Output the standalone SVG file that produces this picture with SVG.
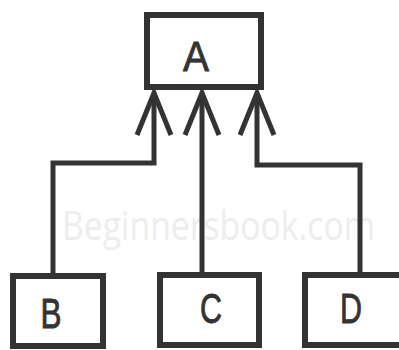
<svg xmlns="http://www.w3.org/2000/svg" width="399" height="350" viewBox="0 0 399 350">
  <style>
    .box { fill: #ffffff; stroke: #333333; stroke-width: 6; }
    .lbl { font-family: "Liberation Sans", Arial, sans-serif; font-size: 42px; fill: #333333; stroke: #333333; stroke-width: 0.9; text-anchor: middle; }
    .link { fill: none; stroke: #333333; stroke-width: 5; stroke-linejoin: miter; }
    .mark { font-family: "Open Sans", "Liberation Sans", sans-serif; font-size: 40px; fill: #ededed; }
  </style>
  <defs>
    <!-- open V arrowhead, tip at the path end -->
    <marker id="openArrow" markerUnits="userSpaceOnUse" viewBox="-46 -22 50 44" refX="0" refY="0" markerWidth="50" markerHeight="44" orient="auto" overflow="visible">
      <path d="M-42 -17 L0 0 L-42 17" fill="none" stroke="#333333" stroke-width="5" stroke-linejoin="miter"/>
    </marker>
  </defs>

  <rect width="399" height="350" fill="#ffffff"/>

  <text class="mark" x="62" y="240" textLength="313" lengthAdjust="spacingAndGlyphs">Beginnersbook.com</text>

  <g id="connectors">
    <path class="link" d="M53 274 V163 H154 V93" marker-end="url(#openArrow)"/>
    <path class="link" d="M202 274 V93" marker-end="url(#openArrow)"/>
    <path class="link" d="M360 274 V165 H257 V93" marker-end="url(#openArrow)"/>
  </g>

  <g id="A">
    <rect class="box" x="147" y="15" width="114" height="72"/>
    <text class="lbl" x="196" y="71" textLength="26" lengthAdjust="spacingAndGlyphs">A</text>
  </g>
  <g id="B">
    <rect class="box" x="13" y="276" width="90" height="70"/>
    <text class="lbl" x="51" y="328" textLength="21" lengthAdjust="spacingAndGlyphs">B</text>
  </g>
  <g id="C">
    <rect class="box" x="160" y="275" width="99" height="70"/>
    <text class="lbl" x="211" y="323" textLength="22" lengthAdjust="spacingAndGlyphs">C</text>
  </g>
  <g id="D">
    <rect class="box" x="305" y="275" width="100" height="70"/>
    <text class="lbl" x="351" y="323" textLength="22" lengthAdjust="spacingAndGlyphs">D</text>
  </g>
</svg>
